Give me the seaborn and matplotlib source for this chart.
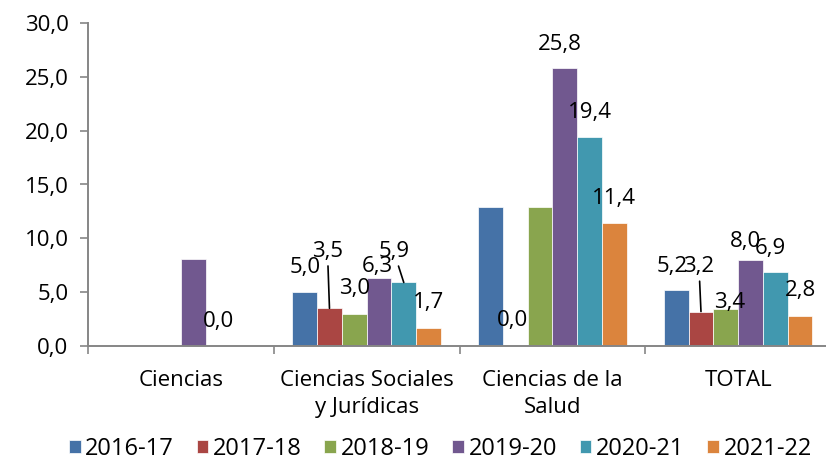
import matplotlib
matplotlib.use("Agg")
import matplotlib.pyplot as plt
import numpy as np
import pandas as pd
import seaborn as sns
from matplotlib.ticker import FuncFormatter

categories = ["Ciencias", "Ciencias Sociales\ny Jurídicas", "Ciencias de la\nSalud", "TOTAL"]
years = ["2016-17", "2017-18", "2018-19", "2019-20", "2020-21", "2021-22"]

# one list per course, values in category order (nan = no bar)
v_2016 = [np.nan, 5.0, 12.9, 5.2]
v_2017 = [np.nan, 3.5, 0.0, 3.2]
v_2018 = [np.nan, 3.0, 12.9, 3.4]
v_2019 = [8.1, 6.3, 25.8, 8.0]
v_2020 = [0.0, 5.9, 19.4, 6.9]
v_2021 = [np.nan, 1.7, 11.4, 2.8]
series = [v_2016, v_2017, v_2018, v_2019, v_2020, v_2021]

# which values carry a data label in the original
shown = [
    [False, True, False, True],
    [False, True, True, True],
    [False, True, False, True],
    [False, True, True, True],
    [True, True, True, True],
    [False, True, True, True],
]

colors = ["#4572A7", "#AA4643", "#89A54E", "#71588F", "#4198AF", "#DB843D"]

rows = []
for y, vals in zip(years, series):
    for c, v in zip(categories, vals):
        rows.append({"cat": c, "year": y, "val": 0.0 if np.isnan(v) else v})
df = pd.DataFrame(rows)

plt.rcParams["font.family"] = ["Open Sans", "DejaVu Sans"]
FS = 16

fig = plt.figure(figsize=(8.26, 4.61), dpi=100)
ax = fig.add_axes([88 / 826, 1 - 346 / 461, 743 / 826, (346 - 23) / 461])

sns.barplot(data=df, x="cat", y="val", hue="year", palette=colors,
            width=0.8, gap=0, edgecolor="white", linewidth=0.5,
            saturation=1, ax=ax, legend=True)

# label offsets in pixels (dx, dy above bar top); default (0, 25)
offsets = {
    (1, 1): (-2, 57), (1, 3): (-2, 12), (1, 4): (-10, 31),
    (3, 0): (-4, 24), (3, 1): (-2, 45), (3, 2): (4, 7),
    (3, 3): (-5, 18), (3, 4): (-5, 23),
    (2, 0): (0, 25), (2, 3): (-5, 24), (2, 1): (-3, 26),
}
leaders = {(1, 1), (1, 4), (3, 1)}

for si, cont in enumerate(ax.containers):
    for ci, bar in enumerate(cont):
        if not shown[si][ci]:
            continue
        val = series[si][ci]
        x = bar.get_x() + bar.get_width() / 2
        top = bar.get_height()
        dx, dy = offsets.get((ci, si), (0, 25))
        txt = f"{val:.1f}".replace(".", ",")
        props = None
        if (ci, si) in leaders:
            props = dict(arrowstyle="-", color="black", lw=1.2, shrinkA=1, shrinkB=0)
        ax.annotate(txt, xy=(x, top), xytext=(dx * 0.72, dy * 0.72),
                    textcoords="offset points", ha="center", va="center",
                    fontsize=FS, color="black", arrowprops=props)

ax.set_ylim(0, 30)
ax.set_yticks(np.arange(0, 31, 5))
ax.yaxis.set_major_formatter(FuncFormatter(lambda v, p: f"{v:.1f}".replace(".", ",")))
ax.set_xlim(-0.5, 3.5)
ax.set_xticks(range(4))
ax.set_xticklabels(categories, linespacing=1.4)
ax.set_xticks(np.arange(-0.5, 4, 1), minor=True)
ax.tick_params(axis="x", which="major", length=0, pad=17, labelsize=FS)
ax.tick_params(axis="x", which="minor", length=6, color="#868686", width=1.2, direction="out")
ax.tick_params(axis="y", length=6, color="#868686", width=1.2, labelsize=FS, pad=8)
ax.set_xlabel("")
ax.set_ylabel("")

sns.despine(ax=ax, top=True, right=True)
for s in ["left", "bottom"]:
    ax.spines[s].set_color("#868686")
    ax.spines[s].set_linewidth(1.4)

leg = ax.get_legend()
handles = leg.legend_handles
leg.remove()
fig.legend(handles, years, loc="center", bbox_to_anchor=(0.533, 1 - 449 / 461),
           ncol=6, frameon=False, fontsize=17, handlelength=0.5, handleheight=0.5,
           handletextpad=0.2, columnspacing=0.95)

fig.savefig("out.png", dpi=100)
